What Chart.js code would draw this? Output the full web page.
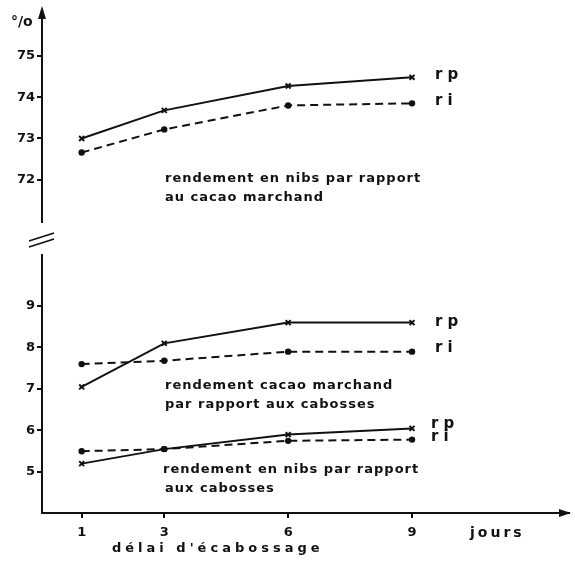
<!DOCTYPE html>
<html>
<head>
<meta charset="utf-8">
<script src="https://cdn.jsdelivr.net/npm/chart.js@4/dist/chart.umd.min.js"></script>
<style>
  body { margin: 0; background: #fff; }
  #wrap { position: relative; width: 575px; height: 568px; }
  canvas { position: absolute; left: 0; top: 0; }
</style>
</head>
<body>
<div id="wrap">
  <canvas id="topChart" width="575" height="568"></canvas>
  <canvas id="bottomChart" width="575" height="568"></canvas>
</div>
<script>
const days = [1, 3, 6, 9];
// rendement en nibs par rapport au cacao marchand (%)
const nibsCacao_rp = [73.0, 73.68, 74.27, 74.48];
const nibsCacao_ri = [72.66, 73.22, 73.8, 73.85];
// rendement cacao marchand par rapport aux cabosses
const cacaoCab_rp = [7.05, 8.1, 8.6, 8.6];
const cacaoCab_ri = [7.6, 7.68, 7.9, 7.9];
// rendement en nibs par rapport aux cabosses
const nibsCab_rp = [5.2, 5.55, 5.9, 6.05];
const nibsCab_ri = [5.5, 5.55, 5.75, 5.78];

const topTicks = [72, 73, 74, 75];
const bottomTicks = [5, 6, 7, 8, 9];

const INK = '#111';
const FONT = '"DejaVu Sans", sans-serif';

function pts(arr) {
  return days.map((d, i) => ({ x: d, y: arr[i] }));
}

function rp(arr) {
  return {
    data: pts(arr), borderColor: INK, borderWidth: 2, pointStyle: 'crossRot',
    pointRadius: 3.5, pointBorderWidth: 2, pointBorderColor: INK, pointBackgroundColor: INK
  };
}
function ri(arr) {
  return {
    data: pts(arr), borderColor: INK, borderWidth: 2, borderDash: [8, 5], pointStyle: 'circle',
    pointRadius: 2.2, pointBorderColor: INK, pointBackgroundColor: INK
  };
}

// texts drawn on top of chart (pixel layout)
function textPlugin(items) {
  return {
    id: 'texts',
    afterDraw(chart) {
      const ctx = chart.ctx;
      ctx.save();
      ctx.fillStyle = INK;
      ctx.textBaseline = 'middle';
      items.forEach(t => {
        ctx.font = (t.font || 'bold 13px') + ' ' + FONT;
        ctx.letterSpacing = (t.sp !== undefined ? t.sp : 1) + 'px';
        ctx.fillText(t.text, t.x, t.y);
      });
      ctx.restore();
    }
  };
}

const decoTop = {
  id: 'decoTop',
  afterDraw(chart) {
    const ctx = chart.ctx, a = chart.chartArea;
    ctx.save();
    ctx.fillStyle = INK;
    ctx.beginPath();
    ctx.moveTo(a.left, a.top - 6);
    ctx.lineTo(a.left - 4, a.top + 7);
    ctx.lineTo(a.left + 4, a.top + 7);
    ctx.closePath();
    ctx.fill();
    // axis break
    ctx.strokeStyle = INK;
    ctx.lineWidth = 1.8;
    ctx.beginPath();
    ctx.moveTo(29, 241); ctx.lineTo(54, 233);
    ctx.moveTo(29, 247); ctx.lineTo(54, 239);
    ctx.stroke();
    ctx.restore();
  }
};

const decoBottom = {
  id: 'decoBottom',
  afterDraw(chart) {
    const ctx = chart.ctx, a = chart.chartArea;
    ctx.save();
    ctx.fillStyle = INK;
    ctx.beginPath();
    ctx.moveTo(a.right + 2, a.bottom);
    ctx.lineTo(a.right - 10, a.bottom - 4);
    ctx.lineTo(a.right - 10, a.bottom + 4);
    ctx.closePath();
    ctx.fill();
    ctx.restore();
  }
};

function xScale(show) {
  return {
    type: 'linear', min: 0.04, max: 12.8, display: show,
    afterBuildTicks: s => { s.ticks = days.map(v => ({ value: v })); },
    afterFit: s => { if (show) s.height = 55; },
    grid: { display: true, drawOnChartArea: false, drawTicks: true, tickLength: 5, color: INK, lineWidth: 2 },
    border: { display: true, color: INK, width: 2 },
    ticks: { color: INK, font: { family: FONT, size: 13, weight: 'bold' }, padding: 7 }
  };
}

function yScale(min, max, tickVals) {
  return {
    type: 'linear', min: min, max: max,
    afterBuildTicks: s => { s.ticks = tickVals.map(v => ({ value: v })); },
    afterFit: s => { s.width = 42; },
    grid: { display: true, drawOnChartArea: false, drawTicks: true, tickLength: 5, color: INK, lineWidth: 2 },
    border: { display: true, color: INK, width: 2 },
    ticks: { color: INK, font: { family: FONT, size: 13, weight: 'bold' }, padding: 2 }
  };
}

const common = {
  responsive: false,
  animation: false,
  plugins: { legend: { display: false }, tooltip: { enabled: false } }
};

new Chart(document.getElementById('topChart'), {
  type: 'line',
  data: { datasets: [rp(nibsCacao_rp), ri(nibsCacao_ri)] },
  options: Object.assign({}, common, {
    layout: { padding: { top: 12, bottom: 346, left: 0, right: 2 } },
    scales: { x: xScale(false), y: yScale(70.98, 76.06, topTicks) }
  }),
  plugins: [decoTop, textPlugin([
    { text: '°/o', x: 11, y: 22, font: 'bold 14px', sp: 0 },
    { text: 'rendement en nibs par rapport', x: 165, y: 179 },
    { text: 'au cacao marchand', x: 165, y: 198 },
    { text: 'r p', x: 435, y: 75, font: 'bold 15px', sp: 0 },
    { text: 'r i', x: 435, y: 101, font: 'bold 15px', sp: 0 }
  ])]
});

new Chart(document.getElementById('bottomChart'), {
  type: 'line',
  data: { datasets: [rp(cacaoCab_rp), ri(cacaoCab_ri), rp(nibsCab_rp), ri(nibsCab_ri)] },
  options: Object.assign({}, common, {
    layout: { padding: { top: 255, bottom: 0, left: 0, right: 2 } },
    scales: { x: xScale(true), y: yScale(4.01, 10.23, bottomTicks) }
  }),
  plugins: [decoBottom, textPlugin([
    { text: 'rendement cacao marchand', x: 165, y: 386 },
    { text: 'par rapport aux cabosses', x: 165, y: 405 },
    { text: 'rendement en nibs par rapport', x: 163, y: 470 },
    { text: 'aux cabosses', x: 165, y: 489 },
    { text: 'r p', x: 435, y: 322, font: 'bold 15px', sp: 0 },
    { text: 'r i', x: 435, y: 348, font: 'bold 15px', sp: 0 },
    { text: 'r p', x: 431, y: 424, font: 'bold 15px', sp: 0 },
    { text: 'r i', x: 431, y: 437, font: 'bold 15px', sp: 0 },
    { text: 'jours', x: 470, y: 533, font: 'bold 14px', sp: 3 },
    { text: 'délai d\'écabossage', x: 112, y: 549, font: 'bold 13px', sp: 4 }
  ])]
});
</script>
</body>
</html>
